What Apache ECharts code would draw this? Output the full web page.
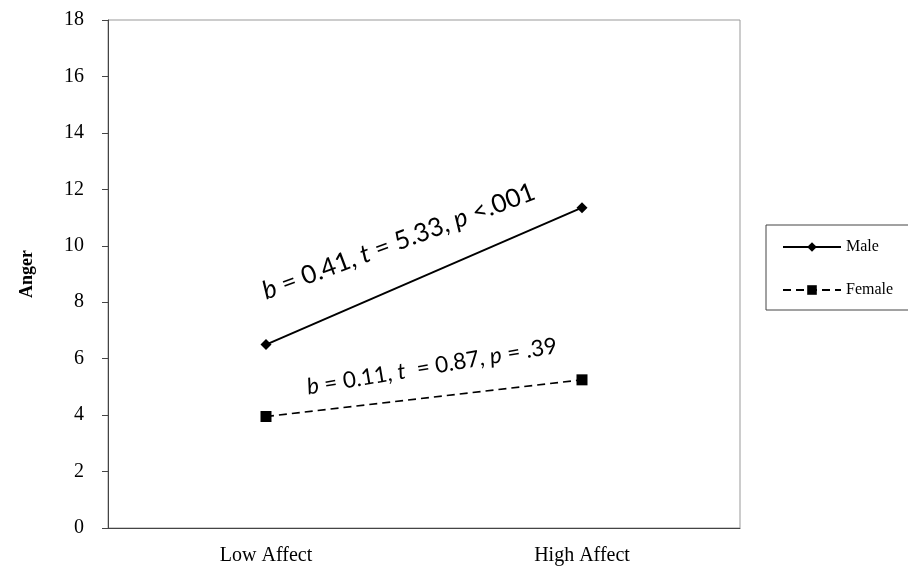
<!DOCTYPE html>
<html style="height: 100%">
  <head>
    <meta charset="UTF-8">
  </head>
  <body style="height: 100%; margin: 0">
    <div id="container" style="width: 908px; height: 572px"></div>
    <script src="https://cdn.jsdelivr.net/npm/echarts@6/dist/echarts.min.js"></script>
    <script>
    var categories = ['Low Affect', 'High Affect'];
    var maleValues = [6.5, 11.35];
    var femaleValues = [3.95, 5.25];
    var yTicks = [0, 18, 2]; // min, max, interval

    // annotations: position as fraction between the two categories + y value, angle in degrees
    var notes = [
      { parts: ['b', ' = 0.41, ', 't', ' = 5.33, ', 'p', ' <.001'], frac: 0.42, y: 10.15, angle: 20.5, size: 25.5 },
      { parts: ['b', ' = 0.11, ', 't', '  = 0.87, ', 'p', ' = .39'], frac: 0.525, y: 5.72, angle: 9.5, size: 22.5 }
    ];

    var chart = echarts.init(document.getElementById('container'), null, { renderer: 'canvas' });

    var serif = '"Liberation Serif", "Times New Roman", serif';
    var sans = 'Lato, "Open Sans", sans-serif';

    var option = {
      animation: false,
      backgroundColor: '#fff',
      grid: {
        left: 108, top: 20, right: 168, bottom: 44,
        show: true, borderColor: '#999', borderWidth: 1
      },
      legend: {
        orient: 'vertical',
        left: 766, top: 225,
        width: 142,
        padding: [14, 40, 12, 16],
        itemWidth: 58, itemHeight: 12, itemGap: 27,
        backgroundColor: '#fff',
        borderColor: '#444', borderWidth: 1,
        textStyle: { fontFamily: serif, fontSize: 16, color: '#000' },
        data: ['Male', 'Female']
      },
      xAxis: {
        type: 'category',
        data: categories,
        axisLine: { lineStyle: { color: '#444', width: 1 } },
        axisTick: { show: false },
        axisLabel: { fontFamily: serif, fontSize: 20, color: '#000', margin: 18 }
      },
      yAxis: {
        type: 'value',
        min: yTicks[0], max: yTicks[1], interval: yTicks[2],
        name: 'Anger',
        nameLocation: 'middle',
        nameGap: 72,
        nameTextStyle: { fontFamily: serif, fontSize: 18, fontWeight: 'bold', color: '#000' },
        splitLine: { show: false },
        axisLine: { show: true, lineStyle: { color: '#444', width: 1 } },
        axisTick: { show: true, length: 6, lineStyle: { color: '#444' } },
        axisLabel: { fontFamily: serif, fontSize: 20, color: '#000', margin: 24 }
      },
      series: [
        {
          name: 'Male',
          type: 'line',
          data: maleValues,
          symbol: 'diamond',
          symbolSize: 11,
          itemStyle: { color: '#000' },
          lineStyle: { color: '#000', width: 2 }
        },
        {
          name: 'Female',
          type: 'line',
          data: femaleValues,
          symbol: 'rect',
          symbolSize: 11,
          itemStyle: { color: '#000' },
          lineStyle: { color: '#000', width: 1.6, type: [8, 5] }
        }
      ]
    };

    chart.setOption(option);

    // place the rotated annotation texts relative to the axes
    var p0 = chart.convertToPixel({ xAxisIndex: 0 }, categories[0]);
    var p1 = chart.convertToPixel({ xAxisIndex: 0 }, categories[1]);
    var graphics = notes.map(function (n) {
      var rich = {
        it: { fontStyle: 'italic', fontFamily: sans, fontSize: n.size, fill: '#000' },
        rm: { fontFamily: sans, fontSize: n.size, fill: '#000' }
      };
      var text = n.parts.map(function (s, i) {
        return (i % 2 === 0 ? '{it|' : '{rm|') + s + '}';
      }).join('');
      return {
        type: 'text',
        x: p0 + n.frac * (p1 - p0),
        y: chart.convertToPixel({ yAxisIndex: 0 }, n.y),
        rotation: n.angle * Math.PI / 180,
        style: {
          text: text,
          rich: rich,
          fontFamily: sans,
          fontSize: n.size,
          fill: '#000',
          align: 'center',
          verticalAlign: 'middle'
        }
      };
    });
    chart.setOption({ graphic: graphics });

    window.addEventListener('resize', chart.resize);
    </script>
  </body>
</html>
